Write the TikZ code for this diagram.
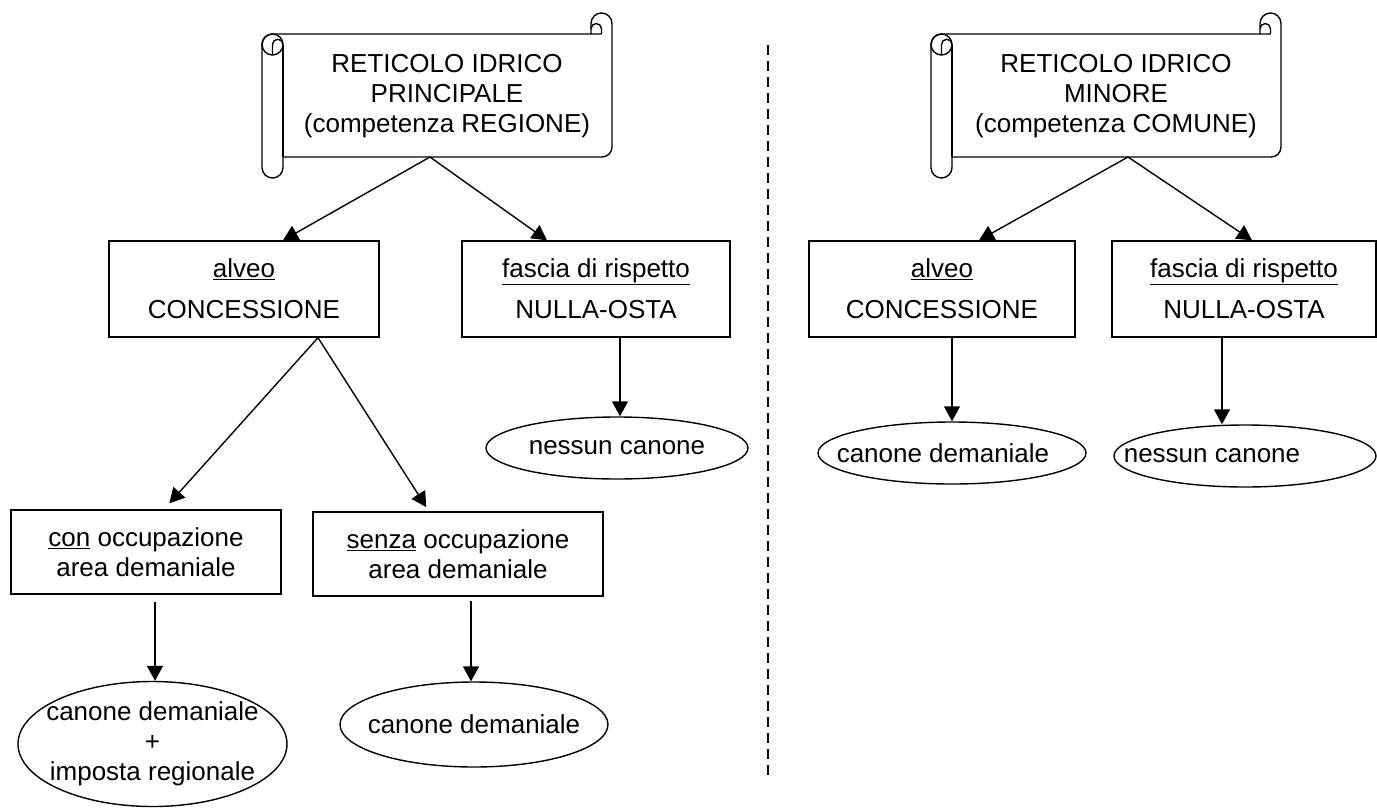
\documentclass[tikz,border=0pt]{standalone}
\usepackage{fontspec}
\setmainfont{Liberation Sans}
\usetikzlibrary{shapes.geometric,arrows.meta}
\newcommand\myScrollShape[1]{%
\begin{scope}[shift={(#1,0)}, scrollline]
\draw (262,44.5) arc[start angle=180,end angle=270,radius=10.5] -- (591,34) -- (591,23.5) arc[start angle=180,end angle=360,radius=10.5] -- (612,147) arc[start angle=0,end angle=90,radius=10] -- (283,157) -- (283,167.5) arc[start angle=0,end angle=180,radius=10.5] -- cycle;
\draw (272.5,44.5) circle[radius=10.5];
\draw (283,44.5) -- (283,157);
\draw (272.5,55) -- (272.5,44.5) arc[start angle=180,end angle=360,radius=5.25];
\draw (591,34) -- (601.5,34) -- (601.5,28.75) arc[start angle=0,end angle=-180,radius=5.25];
\end{scope}}
\begin{document}
\begin{tikzpicture}[x=1pt,y=-1pt,
  every node/.style={font=\fontsize{26}{30}\selectfont},
  box/.style={draw, line width=1.4pt, rectangle, inner sep=0pt, align=center},
  oval/.style={draw, line width=1.4pt, ellipse, inner sep=0pt},
  arr/.style={line width=1.4pt, -{Triangle[length=15pt,width=16pt]}},
  scrollline/.style={line width=1.4pt, line join=round},
]
\useasboundingbox (0,0) rectangle (1377,807);

% scrolls
\myScrollShape{0}
\myScrollShape{669}
\node[align=center] (t1) at (447,96) {RETICOLO IDRICO\\PRINCIPALE\\(competenza REGIONE)};
\node[align=center] (t2) at (1116,96) {RETICOLO IDRICO\\MINORE\\(competenza COMUNE)};
\coordinate (s1) at (430,157);
\coordinate (s2) at (1128,157);

% left side
\node[box, minimum width=270, minimum height=96] (alveo1) at (244,289) {\underline{alveo}\\[11pt]CONCESSIONE};
\node[box, minimum width=268, minimum height=96] (fascia1) at (596,289) {\underline{fascia di rispetto}\\[11pt]NULLA-OSTA};
\node[oval, minimum width=262, minimum height=62, label={center:nessun canone}] (nes1) at (617,448) {};
\node[box, minimum width=270, minimum height=84] (con) at (146,552) {\underline{con} occupazione\\area demaniale};
\node[box, minimum width=290, minimum height=84] (senza) at (458,554) {\underline{senza} occupazione\\area demaniale};
\node[oval, minimum width=269, minimum height=125, label={[align=center]center:canone demaniale\\+\\imposta regionale}] (imp) at (152.5,744) {};
\node[oval, minimum width=268, minimum height=85, label={center:canone demaniale}] (can1) at (474,724.5) {};

% right side
\node[box, minimum width=266, minimum height=96] (alveo2) at (942,289) {\underline{alveo}\\[11pt]CONCESSIONE};
\node[box, minimum width=264, minimum height=96] (fascia2) at (1244,289) {\underline{fascia di rispetto}\\[11pt]NULLA-OSTA};
\node[oval, minimum width=268, minimum height=62, label={[xshift=-9]center:canone demaniale}] (can2) at (952,453) {};
\node[oval, minimum width=262, minimum height=62, label={[xshift=-33]center:nessun canone}] (nes2) at (1245,456) {};

% arrows
\draw[arr] (s1) -- ([xshift=39]alveo1.north);
\draw[arr] (s1) -- ([xshift=-49]fascia1.north);
\draw[arr, shorten >=8pt] ([xshift=74]alveo1.south) -- ([xshift=18]con.north);
\draw[arr, shorten >=5pt] ([xshift=74]alveo1.south) -- ([xshift=-29]senza.north);
\draw[arr] ([xshift=24]fascia1.south) -- ([xshift=3]nes1.north);
\draw[arr, shorten <=7pt] ([xshift=9]con.south) -- ([xshift=2.5]imp.north);
\draw[arr, shorten <=4pt] ([xshift=13]senza.south) -- ([xshift=-3]can1.north);
\draw[arr] (s2) -- ([xshift=37]alveo2.north);
\draw[arr] (s2) -- ([xshift=8]fascia2.north);
\draw[arr] ([xshift=10]alveo2.south) -- (can2.north);
\draw[arr] ([xshift=-22]fascia2.south) -- ([xshift=-23]nes2.north);

% separator
\coordinate (d1) at (768,45);
\coordinate (d2) at (768,775);
\draw[line width=1.4pt, dash pattern=on 10pt off 6pt] (d1) -- (d2);
\end{tikzpicture}
\end{document}
